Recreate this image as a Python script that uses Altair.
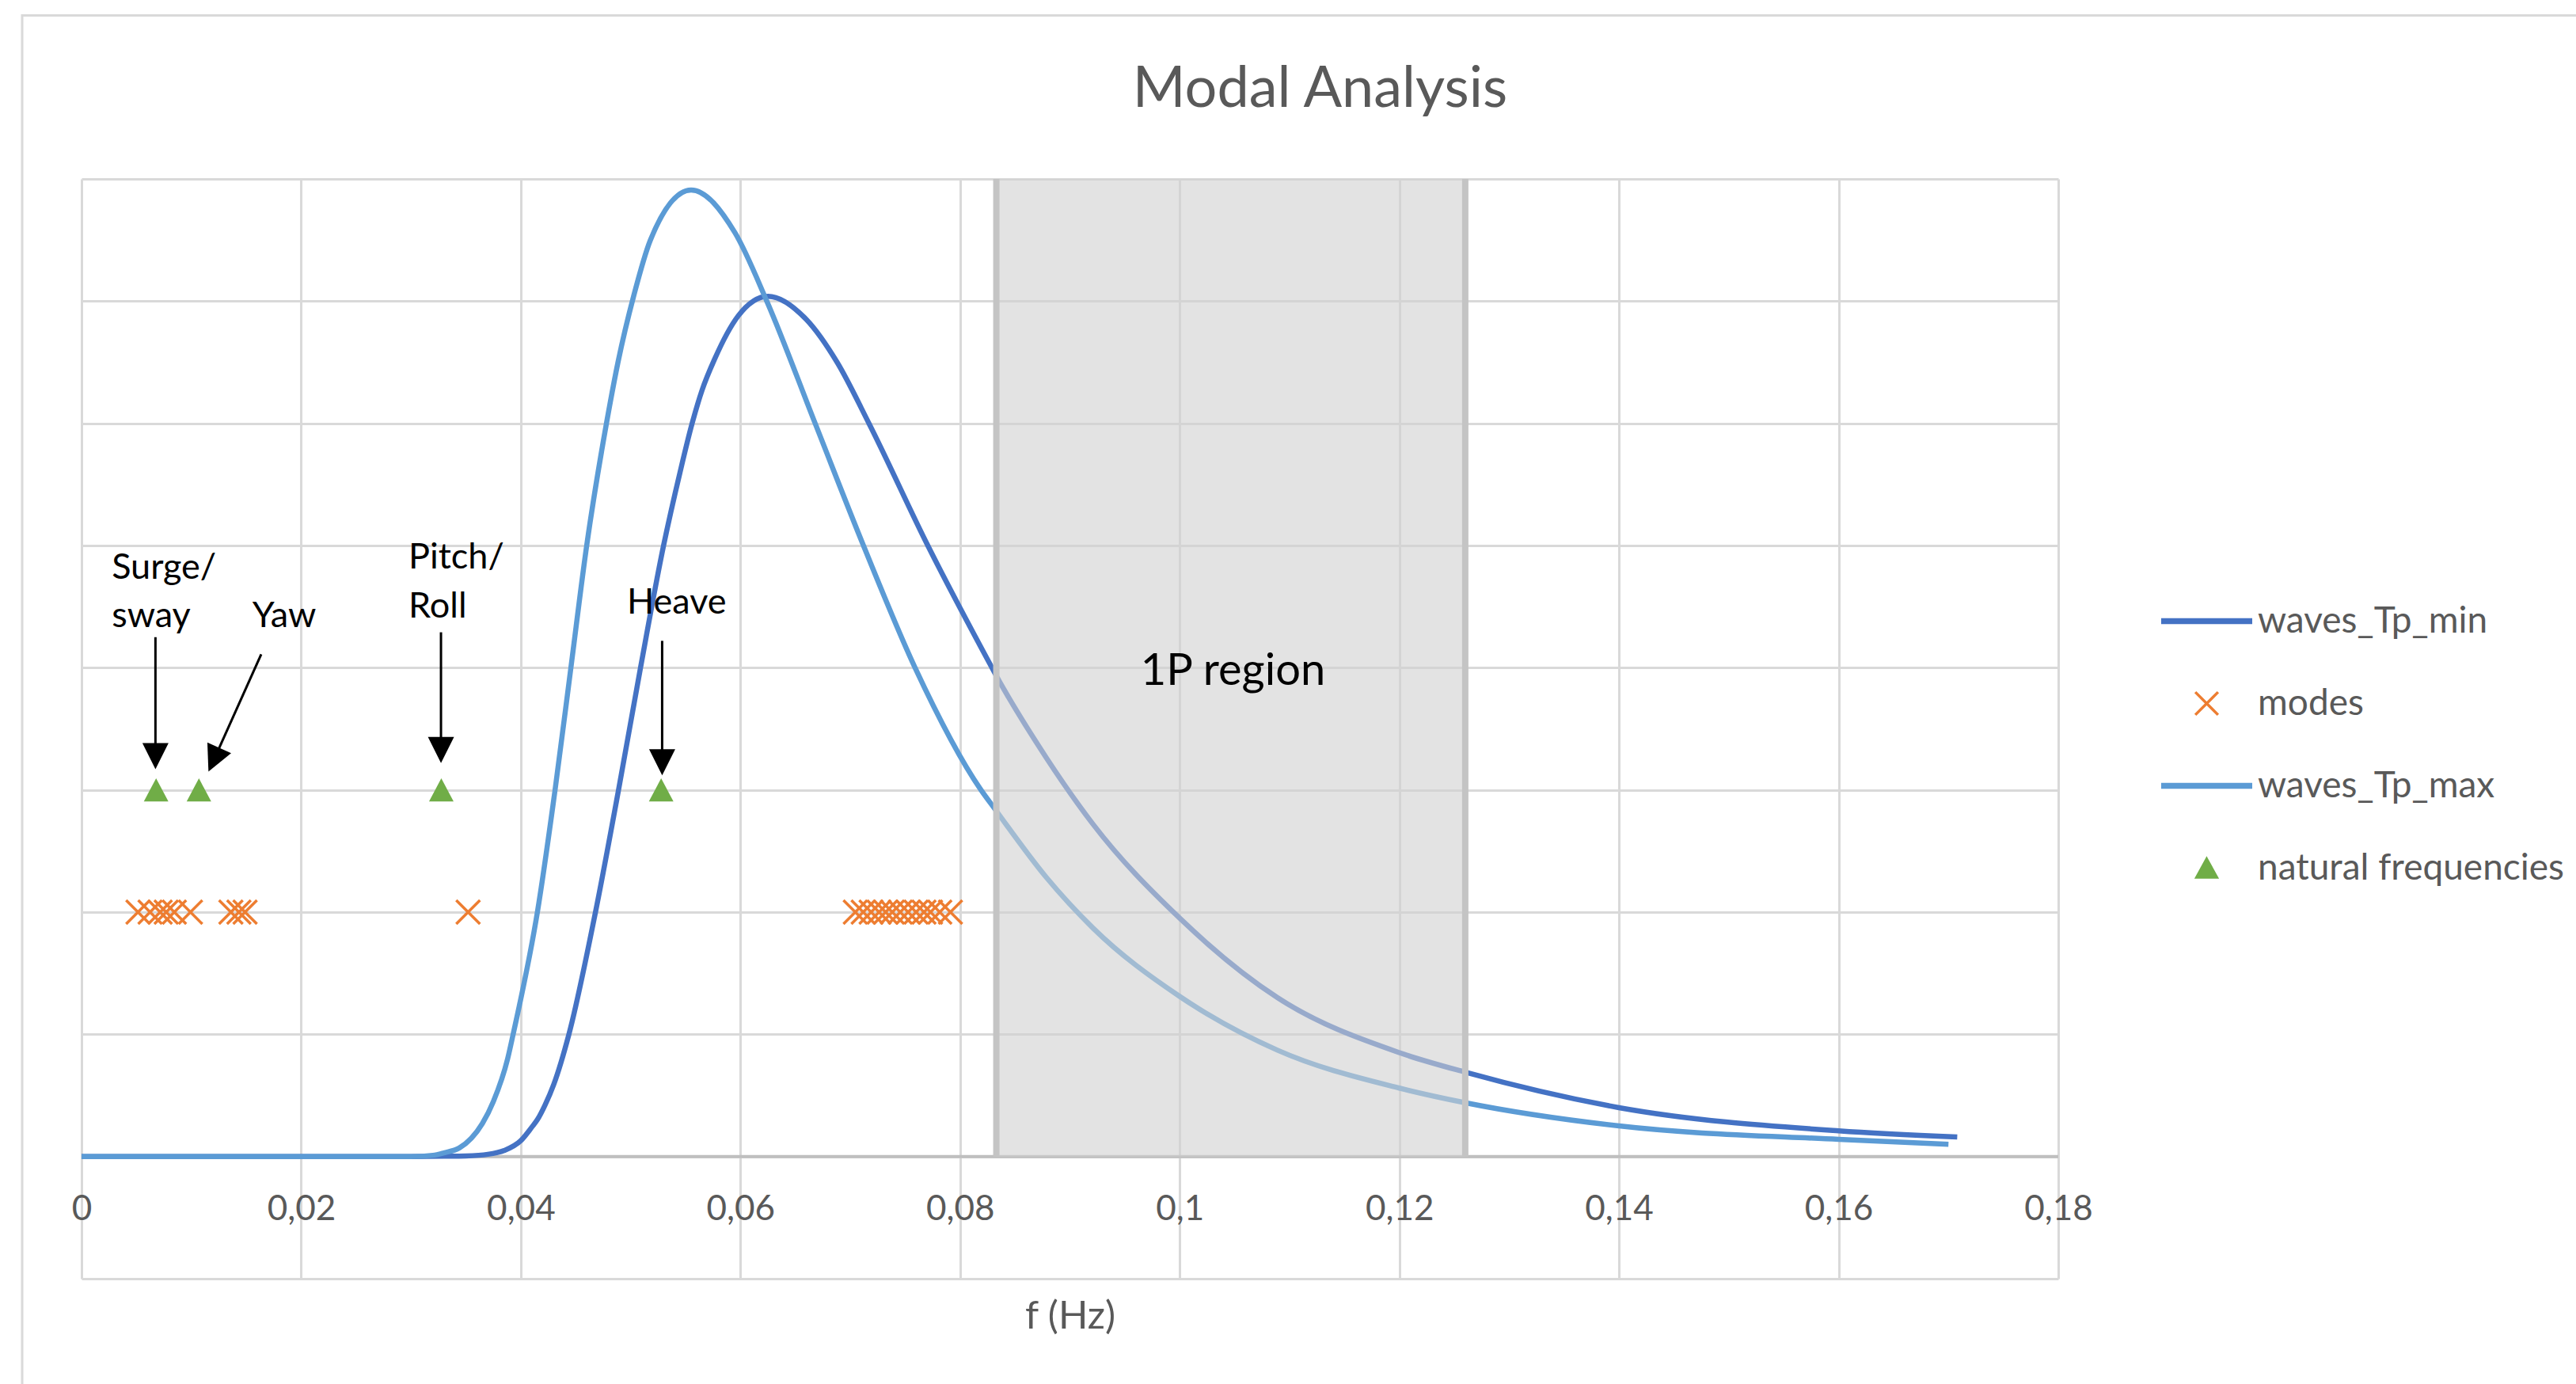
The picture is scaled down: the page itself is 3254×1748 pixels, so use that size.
import altair as alt
import pandas as pd

# ---------------- data ----------------
SERIES = ["waves_Tp_min", "modes", "waves_Tp_max", "natural frequencies"]
SERIES_COLORS = ["#4472C4", "#ED7D31", "#5B9BD5", "#70AD47"]

x_ticks = [0, 0.02, 0.04, 0.06, 0.08, 0.10, 0.12, 0.14, 0.16, 0.18]
y_grid = [-1, 0, 1, 2, 3, 4, 5, 6, 7, 8]

tp_min_f = [0.0, 0.030, 0.033, 0.035, 0.037, 0.0385, 0.040, 0.041, 0.0415, 0.0422, 0.0430,
            0.04438, 0.0468, 0.0489, 0.0509, 0.0530, 0.0545, 0.0556, 0.0565, 0.05767, 0.0598,
            0.06251, 0.0660, 0.0688, 0.0717, 0.07706, 0.0829, 0.0832, 0.0878, 0.0921, 0.1000,
            0.1089, 0.1200, 0.1260, 0.1400, 0.1600, 0.1708]
tp_min_s = [0.0, 0.0, 0.002, 0.005, 0.018, 0.05, 0.13, 0.24, 0.30, 0.42, 0.59,
            1.0, 2.0, 3.0, 4.0, 5.0, 5.6, 6.0, 6.27, 6.53, 6.88,
            7.04, 6.85, 6.5, 6.0, 5.0, 4.0, 3.95, 3.27, 2.72, 1.95,
            1.30, 0.85, 0.69, 0.40, 0.21, 0.16]

tp_max_f = [0.0, 0.030, 0.032, 0.033, 0.0344, 0.0355, 0.0365, 0.0375, 0.0388, 0.0393,
            0.04151, 0.04312, 0.04456, 0.0460, 0.0478, 0.04885, 0.0503, 0.0518, 0.05551,
            0.0595, 0.0624, 0.0668, 0.0712, 0.0759, 0.0819, 0.0832, 0.0878, 0.0921, 0.1000,
            0.1089, 0.1200, 0.1260, 0.1400, 0.1600, 0.1700]
tp_max_s = [0.0, 0.0, 0.01, 0.03, 0.07, 0.15, 0.27, 0.45, 0.80, 1.0,
            2.0, 3.0, 4.0, 5.0, 6.0, 6.5, 7.05, 7.5, 7.91,
            7.56, 7.0, 6.0, 5.0, 4.0, 3.0, 2.84, 2.29, 1.87, 1.31,
            0.87, 0.56, 0.44, 0.25, 0.14, 0.10]

modes_f = [0.00514, 0.00624, 0.00716, 0.00771, 0.00845, 0.00992,
           0.0136, 0.01433, 0.01489, 0.0352,
           0.07046, 0.07118, 0.0719, 0.07262, 0.07322, 0.07383, 0.07455,
           0.07527, 0.07599, 0.07671, 0.07731, 0.07815, 0.07912]
modes_level = 2

natfreq_f = [0.00679, 0.01069, 0.03276, 0.05278]
natfreq_level = 3

region_f = [0.0833]
region_f2 = [0.1260]
region_s = [0]
region_s2 = [8]
region_label = ["1P region"]
region_label_f = [0.10485]
region_label_s = [3.86]

ann_text = ["Surge/", "sway", "Yaw", "Pitch/", "Roll", "Heave"]
ann_f = [0.00275, 0.00275, 0.01555, 0.02978, 0.02978, 0.04966]
ann_s = [4.73, 4.33, 4.33, 4.81, 4.41, 4.44]

arrow_f_start = [0.00673, 0.01636, 0.03273, 0.05287]
arrow_s_start = [4.25, 4.11, 4.29, 4.22]
arrow_f_head = [0.00673, 0.01205, 0.03273, 0.05287]
arrow_s_head = [3.277, 3.247, 3.327, 3.227]
arrow_angle = [0, 24.4, 0, 0]

# ---------------- styling ----------------
FONT = "Lato"
GRAY_TXT = "#595959"
GRID = "#D9D9D9"
X_PATH = "M-1,-1L1,1M1,-1L-1,1"
TRI_PATH = "M0,-0.94L1,0.94L-1,0.94Z"
HEAD_PATH = "M-1,-1L1,-1L0,1Z"
# legend symbol paths (legend symbol size 13225 -> unit = 57.5 px)
LEG_LINE = "M-0.97,-0.035L0.97,-0.035L0.97,0.035L-0.97,0.035Z"
LEG_X = "M-0.25,-0.25L0.25,0.25M0.25,-0.25L-0.25,0.25"
LEG_TRI = "M0,-0.2L0.22,0.2L-0.22,0.2Z"

x_axis = alt.Axis(values=x_ticks, grid=True, gridColor=GRID, gridWidth=3, ticks=False, tickSize=0,
                  domain=False, labelExpr="replace(format(datum.value, '~g'), '.', ',')",
                  labelFont=FONT, labelFontSize=44, labelColor=GRAY_TXT, labelBaseline="alphabetic",
                  labelPadding=-75, labelFlush=False, labelOverlap=False, minExtent=0,
                  title="f (Hz)", titleFont=FONT, titleFontSize=49, titleColor=GRAY_TXT,
                  titleFontWeight="normal", titleBaseline="alphabetic", titlePadding=62)
y_axis = alt.Axis(values=y_grid, grid=True, gridColor=GRID, gridWidth=3, ticks=False, domain=False,
                  labels=False, title=None, minExtent=0)
x_scale = alt.Scale(domain=[0, 0.18], nice=False, zero=False)
y_scale = alt.Scale(domain=[-1, 8], nice=False, zero=False)


def X(field="f"):
    return alt.X(f"{field}:Q", scale=x_scale, axis=x_axis)


def Y(field="S"):
    return alt.Y(f"{field}:Q", scale=y_scale, axis=y_axis)


legend = alt.Legend(title=None, orient="none", legendX=2625, legendY=499, direction="vertical",
                    padding=0, symbolOffset=0, labelOffset=5, rowPadding=21, labelLimit=1000,
                    labelFont=FONT, labelFontSize=46, labelColor=GRAY_TXT,
                    symbolSize=13225, symbolStrokeWidth=3.5, symbolOpacity=1, values=SERIES)
color_scale = alt.Scale(domain=SERIES, range=SERIES_COLORS)
shape_scale = alt.Scale(domain=SERIES, range=[LEG_LINE, LEG_X, LEG_LINE, LEG_TRI])

# ---------------- tables ----------------
df_series = pd.DataFrame({"series": SERIES})
df_min = pd.DataFrame({"f": tp_min_f, "S": tp_min_s})
df_max = pd.DataFrame({"f": tp_max_f, "S": tp_max_s})
df_modes = pd.DataFrame({"f": modes_f, "S": modes_level})
df_nat = pd.DataFrame({"f": natfreq_f, "S": natfreq_level})
df_axis0 = pd.DataFrame({"f": [x_ticks[0]], "f2": [x_ticks[-1]], "S": [0]})
df_region = pd.DataFrame({"f": region_f, "f2": region_f2, "S": region_s, "S2": region_s2})
df_region_edges = pd.DataFrame({"f": region_f + region_f2, "S": region_s * 2, "S2": region_s2 * 2})
df_region_lbl = pd.DataFrame({"f": region_label_f, "S": region_label_s, "t": region_label})
df_ann = pd.DataFrame({"f": ann_f, "S": ann_s, "t": ann_text})
df_arrow = pd.DataFrame({"f": arrow_f_start, "S": arrow_s_start, "f2": arrow_f_head, "S2": arrow_s_head})
df_head = pd.DataFrame({"f": arrow_f_head, "S": arrow_s_head, "ang": arrow_angle})

# ---------------- layers ----------------
axis0 = alt.Chart(df_axis0).mark_rule(color="#BFBFBF", strokeWidth=4).encode(
    x=X(), x2="f2:Q", y=Y())

line_min = alt.Chart(df_min).mark_line(interpolate="monotone", strokeWidth=6.5,
                                       color=SERIES_COLORS[0]).encode(x=X(), y=Y())

modes = alt.Chart(df_modes).mark_point(shape=X_PATH, size=900, strokeWidth=3.5, opacity=1,
                                       filled=False, color=SERIES_COLORS[1]).encode(x=X(), y=Y())

line_max = alt.Chart(df_max).mark_line(interpolate="monotone", strokeWidth=6.5,
                                       color=SERIES_COLORS[2]).encode(x=X(), y=Y())

nat = alt.Chart(df_nat).mark_point(shape=TRI_PATH, size=961, opacity=1, filled=True,
                                   color=SERIES_COLORS[3]).encode(x=X(), y=Y())

# legend carriers (no marks drawn, they only build the shared legend)
leg_fill = alt.Chart(df_series).transform_filter("false").mark_point(filled=True).encode(
    x=X(),
    color=alt.Color("series:N", scale=color_scale, legend=legend),
    shape=alt.Shape("series:N", scale=shape_scale, legend=legend))
leg_stroke = alt.Chart(df_series).transform_filter("false").mark_point(filled=False).encode(
    x=X(),
    color=alt.Color("series:N", scale=color_scale, legend=legend),
    shape=alt.Shape("series:N", scale=shape_scale, legend=legend))

region = alt.Chart(df_region).mark_rect(color="#D0D0D0", opacity=0.6).encode(
    x=X(), x2="f2:Q", y=Y(), y2="S2:Q")

region_edges = alt.Chart(df_region_edges).mark_rule(color="#C4C4C4", strokeWidth=8).encode(
    x=X(), y=Y(), y2="S2:Q")

region_text = alt.Chart(df_region_lbl).mark_text(font=FONT, fontSize=56, color="black",
                                                 align="center", baseline="alphabetic").encode(
    x=X(), y=Y(), text="t:N")

shafts = alt.Chart(df_arrow).mark_rule(color="black", strokeWidth=3).encode(
    x=X(), y=Y(), x2="f2:Q", y2="S2:Q")

heads = alt.Chart(df_head).mark_point(shape=HEAD_PATH, size=1089, filled=True, opacity=1,
                                      color="black").encode(
    x=X(), y=Y(), angle=alt.Angle("ang:Q", scale=None))

ann = alt.Chart(df_ann).mark_text(font=FONT, fontSize=45, color="black", align="left",
                                  baseline="alphabetic").encode(
    x=X(), y=Y(), text="t:N")

frame = alt.Chart(df_axis0).mark_rect(fill="transparent", stroke=GRID, strokeWidth=3).encode(
    x=alt.value(-75), x2=alt.value(3170), y=alt.value(-206.5), y2=alt.value(1540))

chart = alt.layer(
    axis0, line_min, modes, line_max, nat, leg_fill, leg_stroke, region, region_edges,
    shafts, heads, ann, region_text, frame
).properties(
    width=2497, height=1389,
    title=alt.TitleParams("Modal Analysis", font=FONT, fontSize=72, color=GRAY_TXT,
                          fontWeight="normal", anchor="middle", frame="group", dx=316,
                          baseline="alphabetic", offset=-189),
    autosize=alt.AutoSizeParams(type="none"),
    padding={"left": 103, "top": 226, "right": 654, "bottom": 133},
    background="white",
).configure_view(strokeWidth=0)

chart.save("out.html", embed_options={"renderer": "svg", "actions": False})
